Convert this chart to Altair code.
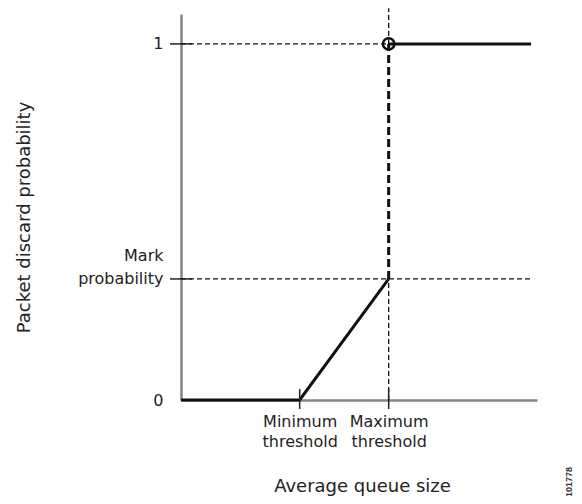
import altair as alt
import pandas as pd

# ---- data ----
curve_x = [0, 4, 7]
curve_y = [0, 0, 0.34]
jump_x = [7]
jump_y = [0.34]
jump_y2 = [1]
top_x = [7]
top_x2 = [11.8]
top_y = [1]
guide_x = [0, 0, 7, 7]
guide_x2 = [7, 11.8, 7, 7]
guide_y = [1, 0.34, 0, 1]
guide_y2 = [1, 0.34, 0.34, 1.10]
x_tick_values = [4, 7]
x_tick_labels = ["Minimum\nthreshold", "Maximum\nthreshold"]
y_tick_values = [0, 0.34, 1]
y_tick_labels = ["0", "Mark\nprobability", "1"]
x_title = "Average queue size"
y_title = "Packet discard probability"
figure_id = "101778"

FONT = "DejaVu Sans"
TXT = "#222222"


def label_expr(values, labels):
    expr = "''"
    for v, l in reversed(list(zip(values, labels))):
        parts = ",".join("'" + p + "'" for p in l.split("\n"))
        expr = f"abs(datum.value - {v}) < 1e-6 ? [{parts}] : ({expr})"
    return expr


xscale = alt.Scale(domain=[0, 12], nice=False, zero=False)
yscale = alt.Scale(domain=[0, 1.084], nice=False, zero=False)

xaxis = alt.Axis(
    values=x_tick_values, labelExpr=label_expr(x_tick_values, x_tick_labels),
    ticks=False, grid=False, domainColor="#858585", domainWidth=2.5,
    labelFont=FONT, labelFontSize=16, labelColor=TXT, labelPadding=13,
    labelLineHeight=20, labelBaseline="top", labelOverlap=False, labelFlush=False,
    title=x_title, titleFont=FONT, titleFontSize=18, titleFontWeight="normal",
    titleColor=TXT, titleX=181, titleY=91, titleBaseline="alphabetic", titleAnchor="middle",
)
yaxis = alt.Axis(
    values=y_tick_values, labelExpr=label_expr(y_tick_values, y_tick_labels),
    ticks=False, grid=False, domainColor="#858585", domainWidth=2.5,
    labelFont=FONT, labelFontSize=16, labelColor=TXT, labelPadding=18,
    labelLineHeight=23, labelBaseline="middle", labelAlign="right",
    labelOffset={"condition": {"test": "abs(datum.value - 0.34) < 1e-6", "value": -23}, "value": 0},
    labelOverlap=False, labelFlush=False,
    title=y_title, titleFont=FONT, titleFontSize=18, titleFontWeight="normal",
    titleColor=TXT, titleX=-157, titleY=203, titleAngle=270,
    titleAlign="center", titleBaseline="middle",
)

guides_df = pd.DataFrame({"x": guide_x, "x2": guide_x2, "y": guide_y, "y2": guide_y2})
guides = alt.Chart(guides_df).mark_rule(
    color="#111111", strokeWidth=1.3, strokeDash=[5, 3]
).encode(
    x=alt.X("x:Q", scale=xscale, axis=xaxis),
    x2="x2:Q",
    y=alt.Y("y:Q", scale=yscale, axis=yaxis),
    y2="y2:Q",
)

curve_df = pd.DataFrame({"x": curve_x, "y": curve_y})
curve = alt.Chart(curve_df).mark_line(color="#111111", strokeWidth=3, strokeCap="butt").encode(
    x=alt.X("x:Q", scale=xscale), y=alt.Y("y:Q", scale=yscale)
)

jump_df = pd.DataFrame({"x": jump_x, "y": jump_y, "y2": jump_y2})
jump = alt.Chart(jump_df).mark_rule(color="#111111", strokeWidth=3, strokeDash=[8, 4]).encode(
    x=alt.X("x:Q", scale=xscale), y=alt.Y("y:Q", scale=yscale), y2="y2:Q"
)

top_df = pd.DataFrame({"x": top_x, "x2": top_x2, "y": top_y})
top = alt.Chart(top_df).mark_rule(color="#111111", strokeWidth=3).encode(
    x=alt.X("x:Q", scale=xscale), x2="x2:Q", y=alt.Y("y:Q", scale=yscale)
)

dot = alt.Chart(pd.DataFrame({"x": top_x, "y": top_y})).mark_point(
    shape="circle", filled=False, size=130, strokeWidth=2.5, color="#111111", opacity=1
).encode(x=alt.X("x:Q", scale=xscale), y=alt.Y("y:Q", scale=yscale))

yt = alt.Chart(pd.DataFrame({"y": y_tick_values[1:]})).mark_rule(color="#222222", strokeWidth=1.5).encode(
    y=alt.Y("y:Q", scale=yscale), x=alt.value(-11), x2=alt.value(11)
)
xt = alt.Chart(pd.DataFrame({"x": x_tick_values})).mark_rule(color="#222222", strokeWidth=1.5).encode(
    x=alt.X("x:Q", scale=xscale), y=alt.value(375), y2=alt.value(395)
)

idtext = alt.Chart(pd.DataFrame({"t": [figure_id]})).mark_text(
    angle=270, font="Liberation Sans", fontSize=9, fontWeight="bold", color="#333333",
    align="center", baseline="middle"
).encode(text="t:N", x=alt.value(388), y=alt.value(468))

chart = alt.layer(guides, curve, jump, top, dot, yt, xt, idtext).properties(
    width=356, height=386,
    autosize=alt.AutoSizeParams(type="none"),
    padding={"left": 173, "top": 6, "right": 37, "bottom": 96},
).configure_view(stroke=None)

chart.save("out.html", embed_options={"renderer": "svg", "actions": False})
